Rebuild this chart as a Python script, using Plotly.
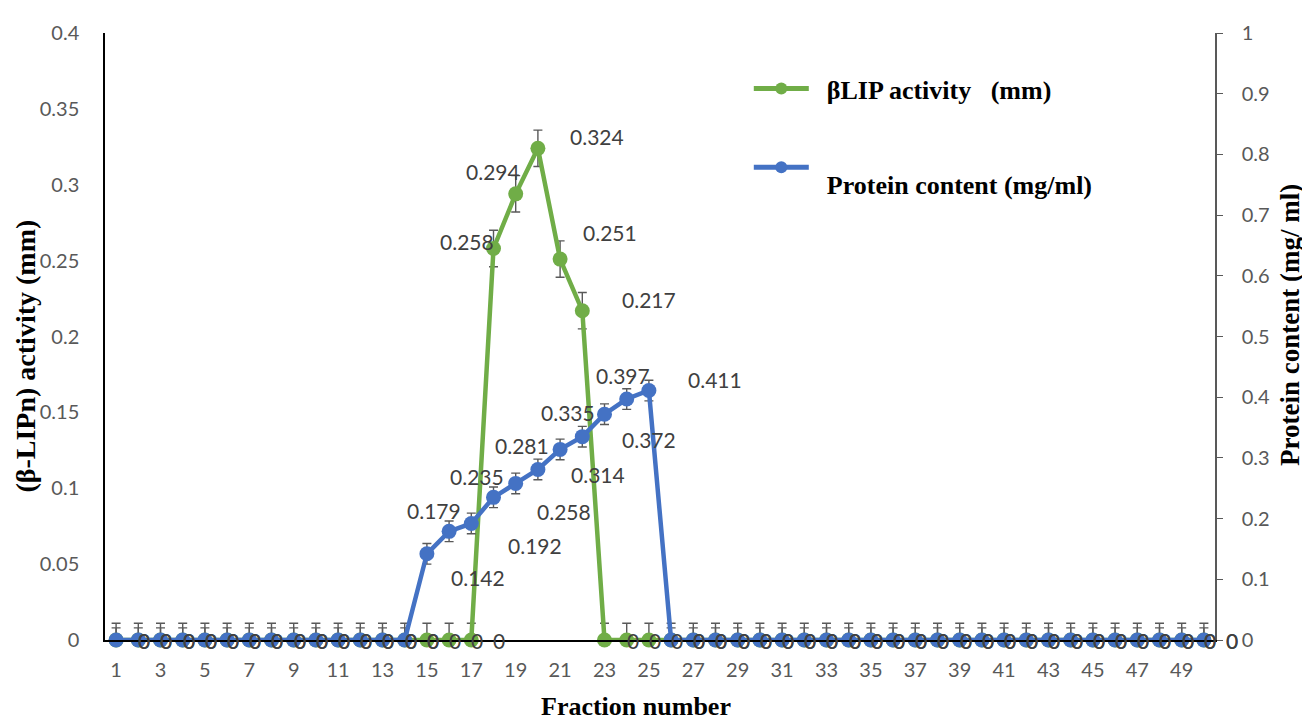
import plotly.graph_objects as go

# ---------------- data ----------------
fractions = [1, 2, 3, 4, 5, 6, 7, 8, 9, 10,
             11, 12, 13, 14, 15, 16, 17, 18, 19, 20,
             21, 22, 23, 24, 25, 26, 27, 28, 29, 30,
             31, 32, 33, 34, 35, 36, 37, 38, 39, 40,
             41, 42, 43, 44, 45, 46, 47, 48, 49, 50]

activity_mm = [0, 0, 0, 0, 0, 0, 0, 0, 0, 0,
               0, 0, 0, 0, 0, 0, 0, 0.258, 0.294, 0.324,
               0.251, 0.217, 0, 0, 0, 0, 0, 0, 0, 0,
               0, 0, 0, 0, 0, 0, 0, 0, 0, 0,
               0, 0, 0, 0, 0, 0, 0, 0, 0, 0]

protein_mg_ml = [0, 0, 0, 0, 0, 0, 0, 0, 0, 0,
                 0, 0, 0, 0, 0.142, 0.179, 0.192, 0.235, 0.258, 0.281,
                 0.314, 0.335, 0.372, 0.397, 0.411, 0, 0, 0, 0, 0,
                 0, 0, 0, 0, 0, 0, 0, 0, 0, 0,
                 0, 0, 0, 0, 0, 0, 0, 0, 0, 0]

activity_err = [0.011, 0.011, 0.011, 0.011, 0.011, 0.011, 0.011, 0.011, 0.011, 0.011,
                0.011, 0.011, 0.011, 0.011, 0.011, 0.011, 0.011, 0.012, 0.012, 0.012,
                0.012, 0.012, 0.011, 0.011, 0.011, 0.011, 0.011, 0.011, 0.011, 0.011,
                0.011, 0.011, 0.011, 0.011, 0.011, 0.011, 0.011, 0.011, 0.011, 0.011,
                0.011, 0.011, 0.011, 0.011, 0.011, 0.011, 0.011, 0.011, 0.011, 0.011]

protein_err = [0.02, 0.02, 0.02, 0.02, 0.02, 0.02, 0.02, 0.02, 0.02, 0.02,
               0.02, 0.02, 0.02, 0.02, 0.017, 0.017, 0.017, 0.017, 0.017, 0.017,
               0.017, 0.017, 0.017, 0.017, 0.017, 0.02, 0.02, 0.02, 0.02, 0.02,
               0.02, 0.02, 0.02, 0.02, 0.02, 0.02, 0.02, 0.02, 0.02, 0.02,
               0.02, 0.02, 0.02, 0.02, 0.02, 0.02, 0.02, 0.02, 0.02, 0.02]

x_tick_values = [1, 3, 5, 7, 9, 11, 13, 15, 17, 19, 21, 23, 25,
                 27, 29, 31, 33, 35, 37, 39, 41, 43, 45, 47, 49]
x_tick_labels = ["1", "3", "5", "7", "9", "11", "13", "15", "17", "19", "21", "23", "25",
                 "27", "29", "31", "33", "35", "37", "39", "41", "43", "45", "47", "49"]
left_tick_values = [0, 0.05, 0.1, 0.15, 0.2, 0.25, 0.3, 0.35, 0.4]
left_tick_labels = ["0", "0.05", "0.1", "0.15", "0.2", "0.25", "0.3", "0.35", "0.4"]
right_tick_values = [0, 0.1, 0.2, 0.3, 0.4, 0.5, 0.6, 0.7, 0.8, 0.9, 1]
right_tick_labels = ["0", "0.1", "0.2", "0.3", "0.4", "0.5", "0.6", "0.7", "0.8", "0.9", "1"]

# label placement (pixel shifts, style only)
green_label_shift = {18: (-27, 7), 19: (-23, 22), 20: (59, 12), 21: (50, 27), 22: (67, 11)}
blue_label_shift = {15: (51, -24), 16: (-15, 21), 17: (64, -22), 18: (-17, 21),
                    19: (48, -28), 20: (-16, 24), 21: (38, -25), 22: (-14, 24),
                    23: (44, -25), 24: (-4, 24), 25: (66, 11)}
zero_label_shift = (28, 0)

GREEN = "#70AD47"
BLUE = "#4472C4"
ERR = "#595959"
TICK_FONT = dict(family="Lato", size=20, color="#595959")
LABEL_FONT = dict(family="Lato", size=21, color="#404040")
TITLE_FONT = dict(family="Liberation Serif", size=26, color="black")
NB = "\u00a0"


def minus(vals, errs):
    return [e if v > 0 else 0 for v, e in zip(vals, errs)]


fig = go.Figure()
fig.add_trace(go.Scatter(
    x=fractions, y=activity_mm, name=f"<b>{NB*2}βLIP activity{NB*3}(mm)</b>",
    mode="lines+markers", yaxis="y", legendgroup="a",
    line=dict(color=GREEN, width=4.5), marker=dict(color=GREEN, size=15),
    error_y=dict(type="data", array=activity_err, arrayminus=minus(activity_mm, activity_err),
                 color=ERR, thickness=1.4, width=4.5),
    cliponaxis=False,
))
fig.add_trace(go.Scatter(
    x=fractions, y=protein_mg_ml, name=f"<br><b>{NB*2}Protein content (mg/ml)</b>",
    mode="lines+markers", yaxis="y2", legendgroup="b",
    line=dict(color=BLUE, width=4.5), marker=dict(color=BLUE, size=15),
    error_y=dict(type="data", array=protein_err, arrayminus=minus(protein_mg_ml, protein_err),
                 color=ERR, thickness=1.4, width=4.5),
    cliponaxis=False,
))

annotations = []
for xs, ys, yref, shifts in ((fractions, activity_mm, "y", green_label_shift),
                             (fractions, protein_mg_ml, "y2", blue_label_shift)):
    for xv, yv in zip(xs, ys):
        dx, dy = shifts.get(xv, zero_label_shift) if yv > 0 else zero_label_shift
        annotations.append(dict(x=xv, y=yv, xref="x", yref=yref, text=f"{yv:g}",
                                showarrow=False, xshift=dx, yshift=dy, font=LABEL_FONT))

annotations += [
    dict(text="<b>(β-LIPn) activity (mm)</b>", x=-0.072, y=0.467, xref="paper", yref="paper",
         xanchor="center", yanchor="middle", textangle=-90, showarrow=False,
         font=dict(family="Liberation Serif", size=28, color="black")),
    dict(text="<b>Protein content (mg/ ml)</b>", x=1.0676, y=0.519, xref="paper", yref="paper",
         xanchor="center", yanchor="middle", textangle=-90, showarrow=False,
         font=dict(family="Liberation Serif", size=27, color="black")),
    dict(text="<b>Fraction number</b>", x=0.478, y=-0.11, xref="paper", yref="paper",
         xanchor="center", yanchor="middle", showarrow=False, font=TITLE_FONT),
]

fig.update_layout(
    width=1302, height=716,
    margin=dict(l=97, r=95, t=13, b=84),
    plot_bgcolor="white", paper_bgcolor="white",
    showlegend=True,
    legend=dict(x=0.580, y=0.947, xanchor="left", yanchor="top",
                font=TITLE_FONT, bgcolor="rgba(0,0,0,0)",
                tracegroupgap=25, itemwidth=55, itemsizing="constant"),
    xaxis=dict(range=[0.5, 50.5], tickmode="array", tickvals=x_tick_values, ticktext=x_tick_labels,
               showgrid=False, zeroline=False, showline=True, linecolor="black", linewidth=1.5,
               ticks="", tickfont=TICK_FONT, ticklabelstandoff=11),
    yaxis=dict(range=[0, 0.4], tickmode="array", tickvals=left_tick_values, ticktext=left_tick_labels,
               showgrid=False, zeroline=False, showline=True, linecolor="black", linewidth=1.5,
               ticks="", tickfont=TICK_FONT, ticklabelstandoff=20),
    yaxis2=dict(range=[0, 1], overlaying="y", side="right", tickmode="array",
                tickvals=right_tick_values, ticktext=right_tick_labels,
                showgrid=False, zeroline=False, showline=True, linecolor="#595959", linewidth=1.5,
                ticks="outside", ticklen=6, tickcolor="#595959", tickwidth=1.2,
                tickfont=TICK_FONT, ticklabelstandoff=15),
    annotations=annotations,
)

fig.write_html("out.html")
